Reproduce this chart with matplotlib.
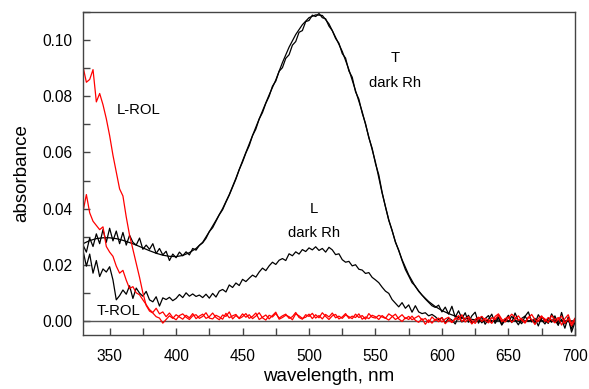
import numpy as np
import matplotlib
matplotlib.use("Agg")
import matplotlib.pyplot as plt
from matplotlib.ticker import MultipleLocator

plt.rcParams['font.family'] = ['Liberation Sans', 'DejaVu Sans']

# noisy spectra sampled every 2.5 nm, values in milli-absorbance
wl = np.arange(330, 700.1, 2.5)

t_dark = [
    27.0, 24.5, 29.5, 26.5, 31.0, 27.5, 32.5, 28.0, 33.0, 28.5,   # 330
    32.0, 27.5, 31.5, 27.0, 30.5, 28.0, 27.0, 29.5, 25.5, 27.0,   # 355
    25.5, 27.5, 24.0, 25.8, 23.5, 24.8, 21.5, 23.8, 22.5, 24.5,   # 380
    23.2, 24.6, 23.5, 25.8, 25.2, 26.9, 27.8, 29.4, 31.8, 33.2,   # 405
    35.5, 37.8, 39.6, 42.3, 44.8, 47.6, 50.5, 53.9, 56.6, 59.8,   # 430
    62.4, 66.0, 68.3, 71.9, 74.2, 77.5, 80.0, 83.6, 85.4, 88.9,   # 455
    90.2, 93.5, 94.8, 98.2, 99.5, 102.8, 103.4, 106.6, 107.0, 108.9,  # 480
    108.4, 109.5, 108.0, 107.6, 105.0, 103.4, 100.6, 98.9, 95.2, 93.6,  # 505
    89.0, 86.8, 81.6, 79.0, 74.0, 70.3, 65.2, 61.5, 56.0, 52.0,   # 530
    45.8, 40.6, 35.8, 32.3, 28.0, 25.2, 21.5, 18.3, 16.0, 13.6,   # 555
    12.4, 10.5, 9.2, 7.8, 6.6, 5.4, 4.8, 5.6, 3.2, 4.9,           # 580
    2.4, 5.2, 1.3, 3.6, 0.8, 2.9, -0.5, 1.8, 3.1, -0.8,           # 605
    1.5, -1.2, 0.6, 2.4, -0.9, 1.1, -1.5, 0.3, 2.0, -0.6,         # 630
    2.8, 0.1, -1.0, 1.6, 3.2, -0.4, 0.9, -1.8, 1.3, 0.2,          # 655
    -0.9, 2.5, 0.4, -1.6, 3.0, -1.1, 0.6, -2.9, 0.8,              # 680
]

l_dark = [
    25.0, 19.5, 23.8, 17.0, 21.5, 15.8, 18.5, 17.4, 19.3, 14.6,   # 330
    7.5, 9.0, 11.0, 9.5, 12.5, 8.0, 11.7, 9.9, 8.8, 10.5,         # 355
    7.5, 6.8, 8.6, 5.3, 8.2, 7.6, 8.4, 7.2, 8.0, 9.4,             # 380
    8.3, 10.0, 8.8, 9.6, 8.7, 9.2, 8.3, 9.5, 8.1, 9.8,            # 405
    8.5, 10.6, 11.2, 10.3, 12.8, 11.9, 13.5, 12.6, 14.8, 14.0,    # 430
    15.2, 16.3, 15.6, 17.4, 18.8, 17.9, 19.6, 20.9, 20.1, 21.6,   # 455
    22.2, 21.5, 23.9, 23.2, 24.6, 23.8, 25.4, 24.7, 26.0, 25.3,   # 480
    26.4, 25.1, 25.8, 24.5, 26.2, 25.3, 23.6, 23.9, 21.8, 20.9,   # 505
    21.2, 19.6, 20.0, 18.4, 18.1, 16.9, 17.2, 15.5, 14.6, 13.6,   # 530
    12.0, 10.6, 9.8, 7.6, 6.3, 5.0, 6.5, 4.5, 5.7, 3.1,           # 555
    5.4, 3.2, 2.6, 2.9, 1.8, 2.3, 1.5, 0.4, 1.2, -0.8,            # 580
    1.0, 0.3, -1.1, 1.5, -0.4, 0.6, 2.0, -0.9, 0.4, 1.2,          # 605
    -0.7, 0.8, 1.9, -0.5, 0.2, 1.4, -1.2, 0.7, -0.3, 1.6,         # 630
    0.4, -1.4, 0.9, 1.7, -0.2, 0.5, -0.9, 2.2, 0.3, -1.1,         # 655
    1.0, -0.5, 1.8, -1.3, 0.6, -2.6, 1.4, -4.0, -0.6,             # 680
]

l_rol = [
    90.5, 85.0, 86.0, 89.5, 78.0, 81.0, 77.0, 72.0, 66.0, 59.0,   # 330
    53.0, 47.0, 44.5, 37.0, 30.5, 25.5, 20.5, 15.5, 10.0, 5.5,    # 355
    3.5, 2.8, 1.5, 1.0, -0.8, 0.5, 1.8, 0.9, 2.2, 1.4,            # 380
    0.6, 2.0, 1.1, 2.6, 0.8, 1.7, 2.4, 0.9, 1.5, 2.8,             # 405
    1.2, 0.4, 2.1, 1.6, 3.2, 0.7, 1.9, 1.0, 2.5, 1.3,             # 430
    2.2, 0.8, 1.7, 2.9, 1.1, 0.3, 2.0, 1.4, 2.6, 1.0,             # 455
    1.8, 2.4, 0.9, 1.5, 3.0, 1.2, 0.6, 2.2, 1.6, 2.7,             # 480
    1.0, 1.9, 0.7, 2.3, 1.4, 2.8, 1.1, 1.7, 0.9, 2.1,             # 505
    1.5, 0.8, 2.4, 1.2, 1.9, 0.6, 2.6, 1.3, 1.0, 2.0,             # 530
    1.4, 0.9, 2.5, 1.7, 0.5, 1.2, 2.2, 0.8, 1.6, 0.4,             # 555
    1.1, 1.8, 0.3, 0.9, -0.6, 1.4, 0.2, 1.0, -0.4, 0.7,           # 580
    1.3, -0.5, 0.6, 1.9, -0.2, 0.8, 1.5, 0.1, -0.9, 0.9,          # 605
    1.6, 0.2, -0.7, 1.2, 0.5, 2.1, -0.3, 0.8, 1.4, -0.5,          # 630
    0.6, 1.8, 0.2, -0.8, 1.1, 2.3, 0.4, -0.2, 1.5, 0.7,           # 655
    -0.6, 1.9, 0.3, 1.2, -1.5, 0.8, 2.2, -1.0, 0.9,               # 680
]

t_rol = [
    39.0, 45.0, 38.5, 35.5, 34.0, 32.5, 33.5, 26.5, 24.5, 23.0,   # 330
    19.5, 17.0, 18.0, 14.5, 11.5, 12.2, 10.0, 9.3, 7.5, 5.8,      # 355
    4.0, 3.0, 4.5, 2.5, 3.2, 1.5, 2.8, 1.2, 0.4, 1.9,             # 380
    2.5, 1.3, 0.5, 1.8, 2.2, 0.9, 1.6, 2.9, 1.0, 0.7,             # 405
    2.0, 1.4, 0.6, 2.7, 1.1, 1.8, 2.3, 0.8, 1.5, 2.6,             # 430
    0.9, 1.6, 2.8, 0.5, 1.3, 2.1, 0.7, 1.9, 3.1, 0.6,             # 455
    1.2, 2.0, 1.5, 0.4, 2.5, 1.8, 0.9, 1.3, 2.4, 0.8,             # 480
    2.2, 1.1, 2.9, 1.6, 0.5, 1.8, 2.3, 0.7, 1.4, 2.6,             # 505
    0.9, 1.7, 1.2, 2.5, 0.6, 1.4, 0.8, 2.0, 1.5, 0.5,             # 530
    1.9, 1.0, 0.3, 1.5, 2.4, 0.7, -0.2, 1.1, 0.5, 1.7,            # 555
    0.2, -0.5, 0.8, -1.2, 0.4, -0.8, 0.6, -0.3, 1.2, -1.0,        # 580
    0.3, -0.6, 1.0, 0.4, 2.2, -0.4, 0.7, -1.1, 0.5, 1.3,          # 605
    -0.2, 0.9, 0.3, -0.9, 1.6, 2.5, 0.6, -0.4, 1.0, 2.4,          # 630
    1.3, 0.2, 0.8, -0.6, 1.4, 0.5, -1.3, 0.9, 1.8, -0.2,          # 655
    1.2, 0.4, -0.7, 0.6, 1.7, -0.9, 0.8, -1.8, 0.1,               # 680
]

# smooth fit of the T dark spectrum, every 5 nm
wl_fit = np.arange(330, 700.1, 5)
t_fit = [
    27.5, 28.6, 29.3, 29.6, 29.6, 29.3, 28.7, 27.9, 27.0, 26.0,   # 330
    25.0, 24.1, 23.4, 23.0, 22.9, 23.3, 24.3, 25.8, 28.0, 31.8,   # 380
    35.8, 40.0, 45.0, 50.8, 57.0, 63.0, 69.0, 74.8, 80.5, 85.8,   # 430
    92.0, 97.5, 102.0, 105.5, 108.0, 109.0, 108.8, 105.8, 101.0, 96.0,  # 480
    89.5, 82.0, 74.5, 65.5, 56.5, 45.5, 36.0, 28.2, 21.8, 16.4,   # 530
    12.2, 9.2, 6.9, 5.1, 3.7, 2.6, 1.7, 1.1, 0.7, 0.4,            # 580
    0.2, 0.1, 0.0, 0.0, 0.0, 0.0, 0.0, 0.0, 0.0, 0.0,             # 630
    0.0, 0.0, 0.0, 0.0, 0.0,                                      # 680
]

fig, ax = plt.subplots(figsize=(5.89, 3.89), dpi=100)
fig.subplots_adjust(left=0.141, right=0.976, bottom=0.139, top=0.969)

ax.axhline(0, color='#555555', linewidth=1.0)
ax.plot(wl_fit, np.array(t_fit) / 1000, color='black', linewidth=0.9)
ax.plot(wl, np.array(t_dark) / 1000, color='black', linewidth=0.9)
ax.plot(wl, np.array(l_dark) / 1000, color='black', linewidth=0.9)
ax.plot(wl, np.array(l_rol) / 1000, color='red', linewidth=0.9)
ax.plot(wl, np.array(t_rol) / 1000, color='red', linewidth=0.9)

ax.text(355, 0.075, 'L-ROL', fontsize=10.7, va='center')
ax.text(357, 0.0036, 'T-ROL', fontsize=10.7, ha='center', va='center')
ax.text(565, 0.0936, 'T', fontsize=10.7, ha='center', va='center')
ax.text(565, 0.0847, 'dark Rh', fontsize=10.7, ha='center', va='center')
ax.text(504, 0.040, 'L', fontsize=10.7, ha='center', va='center')
ax.text(504, 0.0313, 'dark Rh', fontsize=10.7, ha='center', va='center')

ax.set_xlim(330, 700)
ax.set_ylim(-0.005, 0.110)
ax.xaxis.set_major_locator(MultipleLocator(50))
ax.xaxis.set_minor_locator(MultipleLocator(25))
ax.yaxis.set_major_locator(MultipleLocator(0.02))
ax.yaxis.set_minor_locator(MultipleLocator(0.01))
ax.yaxis.set_major_formatter(matplotlib.ticker.FormatStrFormatter('%.2f'))
ax.tick_params(which='both', direction='in', length=5, width=1, color='#444444',
               labelsize=11.2)
ax.tick_params(axis='x', pad=10)
ax.tick_params(axis='y', pad=7.5)
for s in ax.spines.values():
    s.set_color('#444444')
    s.set_linewidth(1.0)

ax.set_xlabel('wavelength, nm', fontsize=13.5, labelpad=3)
ax.set_ylabel('absorbance', fontsize=13.5, labelpad=9)

fig.savefig('out.png', dpi=100)
